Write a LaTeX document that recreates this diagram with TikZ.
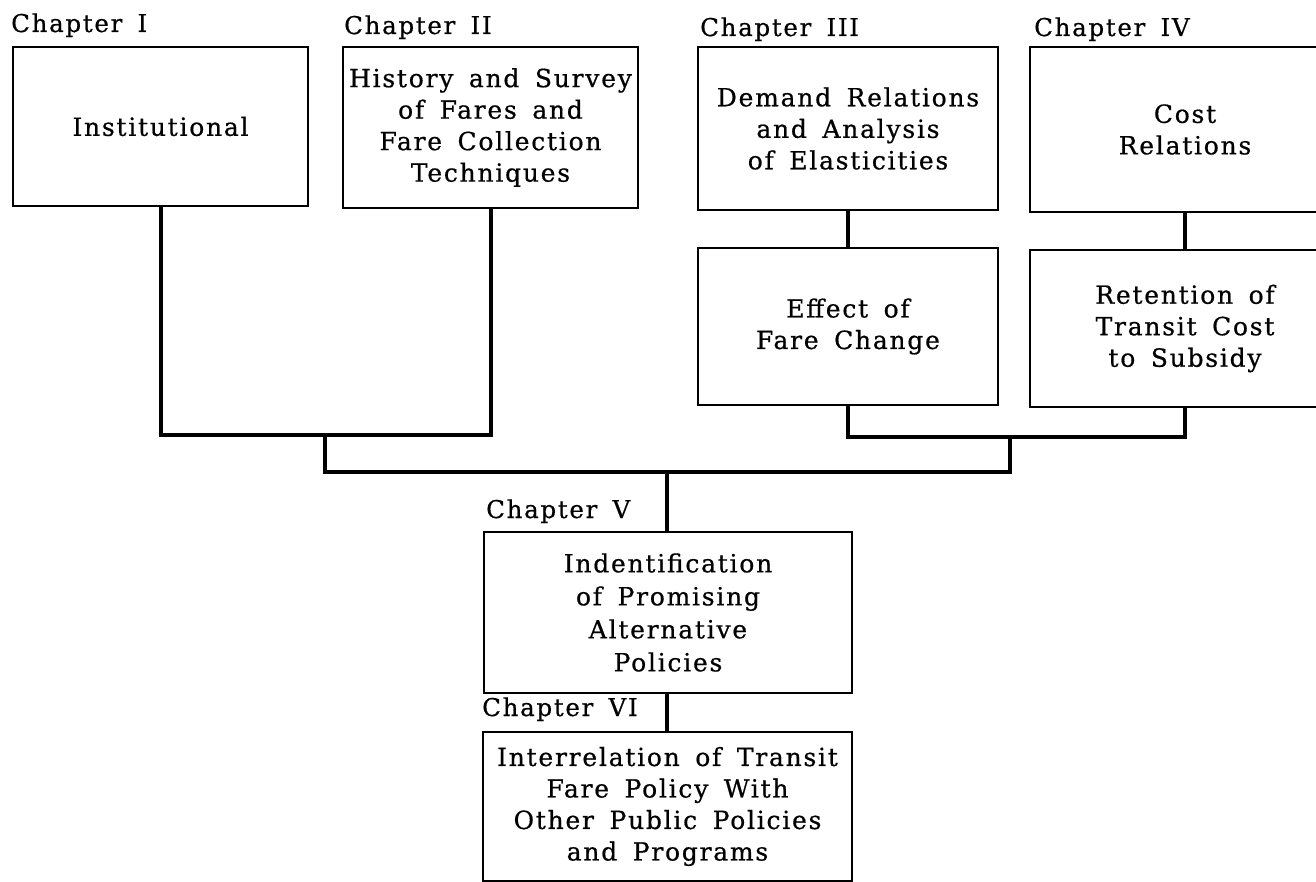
\documentclass[tikz,border=0pt]{standalone}
\usepackage{fontspec}
\setmainfont{DejaVu Serif}[LetterSpace=7, WordSpace=1.6, FakeBold=0.6]
\begin{document}
\begin{tikzpicture}[x=1pt,y=-1pt,
  box/.style={draw, line width=1.8pt, inner sep=0pt, align=center,
    font=\fontsize{25}{31.5}\selectfont},
  lab/.style={anchor=base west, inner sep=0pt, font=\fontsize{24.5}{30}\selectfont},
  conn/.style={line width=4pt, line join=miter}]
\useasboundingbox[fill=white] (0,0) rectangle (1316,882);
% boxes
\node[box, minimum width=295pt, minimum height=159pt] (b1) at (160.5,126.5) {Institutional};
\node[box, minimum width=295pt, minimum height=161pt] (b2) at (490.5,127.5) {History and Survey\\of Fares and\\Fare Collection\\Techniques};
\node[box, minimum width=300pt, minimum height=163pt] (b3) at (848,128.5) {Demand Relations\\and Analysis\\of Elasticities};
\node[box, minimum width=310pt, minimum height=165pt] (b4) at (1185,129.5) {Cost\\Relations};
\node[box, minimum width=300pt, minimum height=157pt] (b3b) at (848,326.5) {Effect of\\Fare Change};
\node[box, minimum width=310pt, minimum height=157pt] (b4b) at (1185,328.5) {Retention of\\Transit Cost\\to Subsidy};
\node[box, minimum width=368pt, minimum height=161pt, font=\fontsize{25}{33}\selectfont] (b5) at (668,612.5) {Indentification\\of Promising\\Alternative\\Policies};
\node[box, minimum width=369pt, minimum height=149pt] (b6) at (667.5,806.5) {Interrelation of Transit\\Fare Policy With\\Other Public Policies\\and Programs};
% labels
\node[lab] (l1) at (11,32) {Chapter I};
\node[lab] (l2) at (344,34) {Chapter II};
\node[lab] (l3) at (700,36) {Chapter III};
\node[lab] (l4) at (1034,36) {Chapter IV};
\node[lab] (l5) at (486,518) {Chapter V};
\node[lab] (l6) at (482,716) {Chapter VI};
% junctions
\coordinate (j12) at (325,435);
\coordinate (j34) at (1010,437);
\coordinate (jc) at (667,472);
% connectors
\draw[conn] (b1.south) |- (j12) -| (b2.south);
\draw[conn] (b3.south) -- (b3b.north);
\draw[conn] (b4.south) -- (b4b.north);
\draw[conn] (b3b.south) |- (j34) -| (b4b.south);
\draw[conn] (j12) |- (jc) -| (j34);
\draw[conn] (jc) -- (b5.north -| jc);
\draw[conn] (b5.south -| jc) -- (b6.north -| jc);
\end{tikzpicture}
\end{document}
